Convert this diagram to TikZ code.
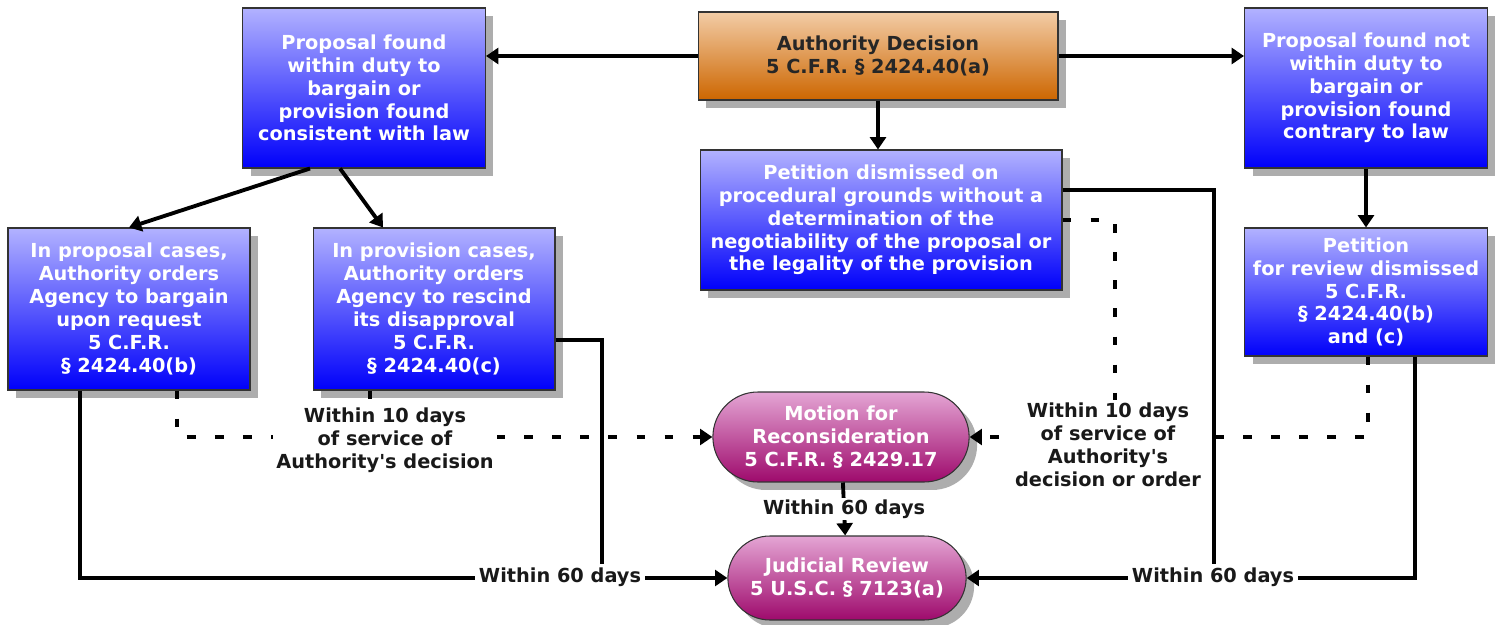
\documentclass[tikz,border=0pt]{standalone}
\usepackage{fontspec}
\setmainfont{DejaVu Sans}[Ligatures=TeXOff]
\usetikzlibrary{shapes.geometric, shapes.misc, arrows.meta, shadows, positioning}

\definecolor{bluetop}{RGB}{178,178,255}
\definecolor{bluebot}{RGB}{0,0,250}
\definecolor{orangetop}{RGB}{242,204,166}
\definecolor{orangebot}{RGB}{205,102,0}
\definecolor{pinktop}{RGB}{228,165,212}
\definecolor{pinkbot}{RGB}{158,10,108}

\tikzset{
  boxtext/.style={align=center, font=\bfseries\fontsize{11}{13}\selectfont},
  shadowed/.style={drop shadow={shadow xshift=0.16cm, shadow yshift=-0.16cm, fill=black!32, opacity=1}},
  bluebox/.style={boxtext, shadowed, draw=black!80, line width=0.6pt, text=white,
    top color=bluetop, bottom color=bluebot, inner sep=2pt},
  orangebox/.style={boxtext, shadowed, draw=black!80, line width=0.6pt, text=black!85,
    top color=orangetop, bottom color=orangebot},
  pill/.style={boxtext, shadowed, rounded rectangle, draw=black!80, line width=0.6pt, text=white,
    top color=pinktop, bottom color=pinkbot},
  daylabel/.style={boxtext, fill=white, inner sep=2pt, text=black!90},
  link/.style={line width=2.2pt},
  dlink/.style={line width=2.2pt, dash pattern=on 5pt off 11pt},
  >={Triangle[length=7pt, width=9pt]}
}

\begin{document}
\begin{tikzpicture}[x=0.02cm, y=-0.02cm]
\useasboundingbox (0,0) rectangle (1501,625);

\node[orangebox, minimum width=7.2cm, minimum height=1.76cm] (decision) at (878,56)
  {Authority Decision\\5 C.F.R. § 2424.40(a)};
\node[bluebox, minimum width=4.86cm, minimum height=3.2cm] (propin) at (364,88)
  {Proposal found\\within duty to\\bargain or\\provision found\\consistent with law};
\node[bluebox, minimum width=4.86cm, minimum height=3.2cm] (propout) at (1366,88)
  {Proposal found not\\within duty to\\bargain or\\provision found\\contrary to law};
\node[bluebox, minimum width=7.24cm, minimum height=2.8cm] (dismissed) at (881,220)
  {Petition dismissed on\\procedural grounds without a\\determination of the\\negotiability of the proposal or\\the legality of the provision};
\node[bluebox, minimum width=4.84cm, minimum height=3.24cm] (bargain) at (129,309)
  {In proposal cases,\\Authority orders\\Agency to bargain\\upon request\\5 C.F.R.\\§ 2424.40(b)};
\node[bluebox, minimum width=4.84cm, minimum height=3.24cm] (rescind) at (434,309)
  {In provision cases,\\Authority orders\\Agency to rescind\\its disapproval\\5 C.F.R.\\§ 2424.40(c)};
\node[bluebox, minimum width=4.86cm, minimum height=2.56cm] (review) at (1366,292)
  {Petition\\for review dismissed\\5 C.F.R.\\§ 2424.40(b)\\and (c)};
\node[pill, minimum width=5.36cm, minimum height=1.8cm] (motion) at (841,437)
  {Motion for\\Reconsideration\\5 C.F.R. § 2429.17};
\node[pill, minimum width=5cm, minimum height=1.68cm] (judicial) at (847,578)
  {Judicial Review\\5 U.S.C. § 7123(a)};

\coordinate (leftjoin) at ([xshift=-2.5cm]judicial.west);
\coordinate (rightjoin) at ([xshift=4.94cm]judicial.east);
\coordinate (dashjoin) at ([xshift=2.9cm]motion.east);
\coordinate (tickend) at ([xshift=-1.28cm]rescind.south |- motion.west);

\draw[link, ->] (decision.west) -- (decision.west -| propin.east);
\draw[link, ->] (decision.east) -- (decision.east -| propout.west);
\draw[link, ->] (decision.south) -- (decision.south |- dismissed.north);
\draw[link, ->] ([xshift=-1.08cm]propin.south) -- (bargain.north);
\draw[link, ->] ([xshift=-0.48cm]propin.south) -- ([xshift=-1.02cm]rescind.north);
\draw[link, ->] (propout) -- (review);

\draw[dlink, ->] ([xshift=0.96cm]bargain.south) |- (motion.west);
\draw[dlink] ([xshift=-1.28cm]rescind.south) -- (tickend);
\draw[dlink] (dismissed.east) -| (dashjoin);
\draw[dlink, ->] ([xshift=0.04cm]review.south) |- (motion.east);

\draw[link, ->] ([xshift=-0.98cm]bargain.south) |- (judicial.west);
\draw[link] ([yshift=-0.62cm]rescind.east) -| (leftjoin);
\draw[link] ([yshift=0.6cm]dismissed.east) -| (rightjoin);
\draw[link, ->] ([xshift=0.98cm]review.south) |- (judicial.east);
\draw[link, ->] (motion) -- (judicial)
  node[daylabel, midway, inner sep=1pt] (mlabel) {Within 60 days};

\node[daylabel] (leftten) at (385,440)
  {Within 10 days\\of service of\\Authority's decision};
\node[daylabel] (rightten) at (1108,445)
  {Within 10 days\\of service of\\Authority's\\decision or order};
\node[daylabel] (leftsixty) at (560,577) {Within 60 days};
\node[daylabel] (rightsixty) at (1213,577) {Within 60 days};
\end{tikzpicture}
\end{document}
